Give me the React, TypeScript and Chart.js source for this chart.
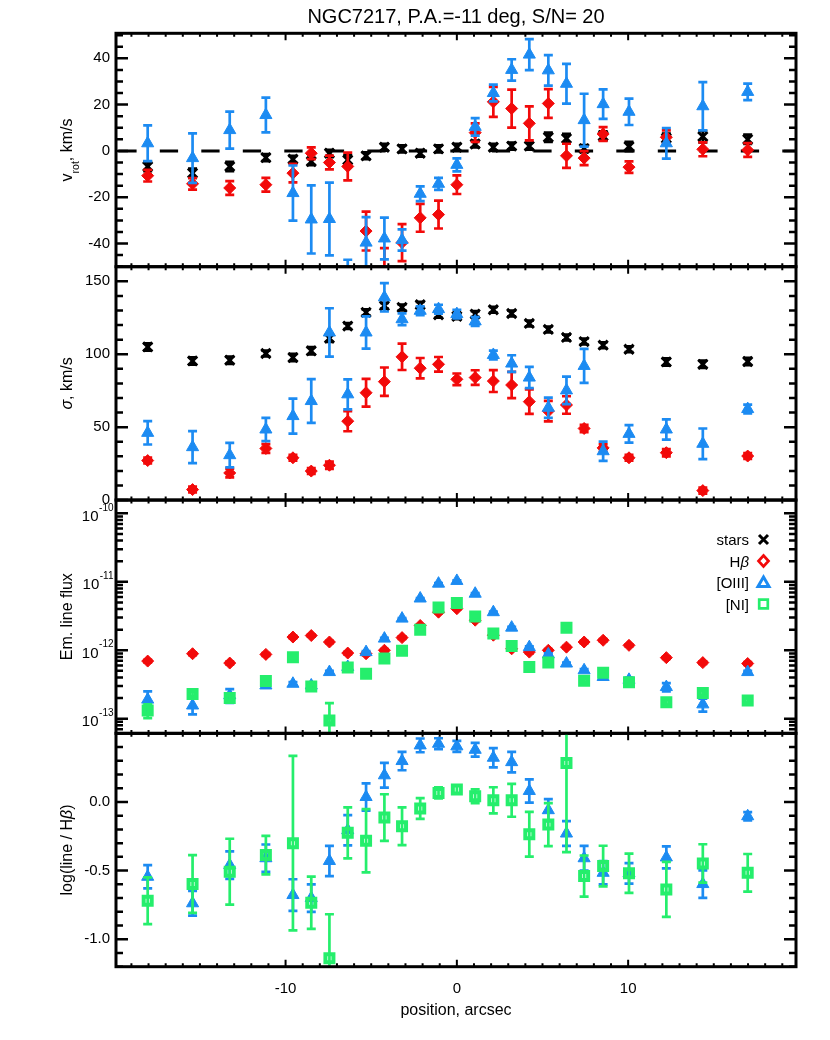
import React, { useEffect, useRef } from 'react';
import { Chart, registerables } from 'chart.js';

Chart.register(...registerables);

const FONT = '"Liberation Sans", Arial, Helvetica, sans-serif';
Chart.defaults.font.family = FONT;

// ---------------- data ----------------
const POS = [-18.05, -15.43, -13.26, -11.15, -9.57, -8.5, -7.44, -6.37, -5.3, -4.23, -3.2, -2.14, -1.07, 0, 1.07, 2.13, 3.2, 4.23, 5.34, 6.4, 7.43, 8.54, 10.05, 12.23, 14.36, 16.98];

// rotation velocity, km/s
const VROT_STARS = [-6.7, -9.6, -6.7, -2.9, -3.6, -4.6, -1.0, -3.9, -2.1, 1.6, 0.9, -1.0, 0.9, 1.6, 3.0, 1.6, 2.1, 2.1, 5.9, 5.4, 1.0, 6.5, 1.9, 5.5, 6.2, 5.0];
const VROT_STARS_ERR = [2, 2, 2, 1.5, 1.5, 1.5, 1.5, 2, 1.5, 1.5, 1.5, 1.5, 1.5, 1.5, 1.5, 1.5, 1.5, 1.5, 2, 2, 1.5, 2, 2, 2, 2.5, 2];
const VROT_HB = [-10.7, -14.2, -16, -14.6, -9.6, -1, -5, -6.7, -34.6, -52, -39.6, -28.9, -27.5, -14.6, 7.9, 21.2, 18.3, 11.9, 20.5, -2.1, -3.1, 7.3, -7, 5.9, 0.7, 0.4];
const VROT_HB_ERR = [2.5, 2.5, 3, 3, 4, 2.5, 3, 6, 8.4, 10, 8, 6, 6, 4, 4, 6.5, 8.2, 7.3, 6.2, 5.2, 3, 3, 2.5, 3, 3, 3];
const VROT_OIII = [3.3, -3.1, 9, 15.5, -18.2, -29.6, -29.4, -65, -39.6, -37.8, -38.5, -18.5, -14.2, -6, 10.4, 25, 35, 41.6, 34.8, 29, 13.3, 20.2, 16.9, 3.3, 19.3, 25.5];
const VROT_OIII_ERR = [7.7, 10.7, 8, 7.5, 11.9, 14.7, 15.7, 18, 11, 9, 4.6, 3.2, 2.6, 2.8, 3.8, 3.6, 4.6, 6.7, 6.6, 8.6, 11.4, 6.4, 5.7, 6.6, 10.4, 3.6];

// velocity dispersion, km/s
const SIGMA_STARS = [105, 95.4, 95.9, 100.5, 97.7, 102.3, 111, 119.3, 128.7, 133.2, 132.1, 133.9, 127, 126, 127.5, 130.5, 127.9, 121.1, 117, 111.5, 108.7, 106.2, 103.4, 94.7, 93.1, 95];
const SIGMA_STARS_ERR = [2.5, 2.5, 2.5, 2, 2.5, 2.5, 2.5, 2, 2, 2, 2, 2, 2, 2, 2, 2, 2, 2, 2, 2, 2, 2, 2, 2.5, 2.5, 2.5];
const SIGMA_HB = [27.1, 7.2, 18.6, 35.4, 29.0, 19.9, 23.9, 54.1, 73.6, 81.2, 98.2, 90.4, 93.1, 82.8, 84, 81.6, 78.9, 67.5, 61, 65.2, 49.1, 35.8, 29, 32.5, 6.5, 30.2];
const SIGMA_HB_ERR = [2, 2, 3, 3, 2, 2, 2.5, 6.9, 9.5, 9.7, 9, 7, 5, 4, 5, 7.5, 9, 8.4, 7, 6, 2.5, 2.5, 2, 2.5, 2, 2];
const SIGMA_OIII = [46.1, 36.3, 30.8, 48.4, 57.6, 67.9, 114.9, 72.5, 114.9, 139, 124, 129.8, 130.9, 127.5, 122.5, 99.5, 93.6, 84, 63.3, 75.2, 92, 33.5, 45.4, 48.4, 38.6, 62.4];
const SIGMA_OIII_ERR = [8, 11, 8.4, 8, 12, 15, 16.6, 10.3, 11, 9.7, 4, 3, 3, 3, 3, 3, 5.7, 7.3, 7, 9.4, 11.7, 6.6, 6, 6.9, 10.5, 3];

// emission line flux
const FLUX_HB = [6.95e-13, 8.9e-13, 6.5e-13, 8.7e-13, 1.56e-12, 1.64e-12, 1.32e-12, 9.1e-13, 8.9e-13, 1.0e-12, 1.53e-12, 2.3e-12, 3.6e-12, 4.05e-12, 2.75e-12, 1.66e-12, 1.05e-12, 9.4e-13, 1.0e-12, 1.11e-12, 1.32e-12, 1.4e-12, 1.18e-12, 7.8e-13, 6.6e-13, 6.4e-13];
const FLUX_HB_ERR = [0.3e-13, 0.4e-13, 0.3e-13, 0.4e-13, 0.6e-13, 0.6e-13, 0.5e-13, 0.4e-13, 0.4e-13, 0.4e-13, 0.6e-13, 0.8e-13, 1.2e-13, 1.3e-13, 1.0e-13, 0.6e-13, 0.4e-13, 0.4e-13, 0.4e-13, 0.4e-13, 0.5e-13, 0.5e-13, 0.4e-13, 0.3e-13, 0.3e-13, 0.3e-13];
const FLUX_OIII = [1.9e-13, 1.56e-13, 2.2e-13, 3.06e-13, 3.24e-13, 3.06e-13, 4.8e-13, 5.7e-13, 9.4e-13, 1.48e-12, 2.9e-12, 5.7e-12, 9.4e-12, 1.03e-11, 6.7e-12, 3.6e-12, 2.14e-12, 1.11e-12, 8.7e-13, 6.4e-13, 5.1e-13, 4.07e-13, 3.7e-13, 2.9e-13, 1.62e-13, 4.8e-13];
const FLUX_OIII_ERR = [0.6e-13, 0.4e-13, 0.5e-13, 0.2e-13, 0.2e-13, 0.2e-13, 0.2e-13, 0.2e-13, 0.3e-13, 0.4e-13, 0.6e-13, 1e-13, 1.5e-13, 1.6e-13, 1.2e-13, 0.8e-13, 0.5e-13, 0.3e-13, 0.3e-13, 0.2e-13, 0.2e-13, 0.2e-13, 0.3e-13, 0.4e-13, 0.35e-13, 0.2e-13];
const FLUX_NI = [1.32e-13, 2.3e-13, 2.0e-13, 3.55e-13, 7.9e-13, 2.95e-13, 9.4e-14, 5.6e-13, 4.55e-13, 7.6e-13, 9.8e-13, 2.0e-12, 4.2e-12, 4.9e-12, 3.1e-12, 1.75e-12, 1.15e-12, 5.7e-13, 6.6e-13, 2.14e-12, 3.6e-13, 4.7e-13, 3.4e-13, 1.74e-13, 2.37e-13, 1.85e-13];
const FLUX_NI_ERR = [0.3e-13, 0.25e-13, 0.2e-13, 0.2e-13, 0.3e-13, 0.2e-13, 0.75e-13, 0.2e-13, 0.2e-13, 0.3e-13, 0.3e-13, 0.5e-13, 0.8e-13, 0.9e-13, 0.6e-13, 0.4e-13, 0.3e-13, 0.2e-13, 0.2e-13, 0.4e-13, 0.2e-13, 0.3e-13, 0.2e-13, 0.2e-13, 0.2e-13, 0.15e-13];

// log(line / Hbeta)
const RATIO_OIII = [-0.545, -0.738, -0.46, -0.41, -0.678, -0.70, -0.43, -0.206, 0.036, 0.194, 0.298, 0.412, 0.424, 0.405, 0.38, 0.322, 0.29, 0.08, -0.06, -0.23, -0.41, -0.516, -0.52, -0.404, -0.598, -0.104];
const RATIO_OIII_ERR = [0.085, 0.09, 0.1, 0.1, 0.115, 0.1, 0.11, 0.11, 0.1, 0.09, 0.067, 0.05, 0.04, 0.04, 0.05, 0.07, 0.075, 0.085, 0.08, 0.09, 0.09, 0.085, 0.075, 0.08, 0.1, 0.03];
const RATIO_NI = [-0.72, -0.598, -0.508, -0.387, -0.30, -0.734, -1.138, -0.225, -0.283, -0.114, -0.177, -0.048, 0.066, 0.09, 0.041, 0.012, 0.012, -0.235, -0.165, 0.284, -0.54, -0.467, -0.52, -0.637, -0.448, -0.516];
const RATIO_NI_ERR = [0.17, 0.21, 0.24, 0.14, 0.635, 0.19, 0.32, 0.186, 0.23, 0.17, 0.137, 0.076, 0.04, 0.03, 0.05, 0.095, 0.12, 0.163, 0.157, 0.65, 0.15, 0.148, 0.143, 0.2, 0.14, 0.137];

// ---------------- text / ticks ----------------
const TITLE = 'NGC7217, P.A.=-11 deg, S/N= 20';
const X_TITLE = 'position, arcsec';
const X_MIN = -19.9;
const X_MAX = 19.8;
const X_TICKS = [-10, 0, 10];
const Y1_TICKS = [-40, -20, 0, 20, 40];
const Y2_TICKS = [0, 50, 100, 150];
const Y3_DECADES = [-13, -12, -11, -10];
const Y4_TICKS = [-1.0, -0.5, 0.0];

type Part = { t: string; it?: boolean; sub?: boolean; sup?: boolean };
const LEGEND_LABELS: Part[][] = [[{ t: 'stars' }], [{ t: 'H' }, { t: 'β', it: true }], [{ t: '[OIII]' }], [{ t: '[NI]' }]];

// ---------------- style ----------------
const C_STARS = '#000000';
const C_HB = '#F20A0A';
const C_OIII = '#1C8BF2';
const C_NI = '#25EE6C';

const W = 830;
const H = 1040;
const AREA_L = 116;
const AREA_R = 796;
const PANEL_TOPS = [33.3, 266.7, 500, 733.3];
const PANEL_H = 233.4;
const X_AXIS_H = 60;

function range(a: number, b: number, s: number) {
  const out: number[] = [];
  const n = Math.floor((b - a) / s + 1e-6);
  for (let i = 0; i <= n; i++) out.push(+(a + i * s).toFixed(6));
  return out;
}

function pts(ys: number[]) {
  return POS.map((x, i) => ({ x, y: ys[i] }));
}

function starsDs(ys: number[], err: number[]) {
  return { label: 'stars', data: pts(ys), err, pointStyle: 'crossRot', pointRadius: 6.5, pointBorderWidth: 3, pointBorderColor: C_STARS, pointBackgroundColor: C_STARS, order: 4 };
}
function hbDs(ys: number[], err: number[]) {
  return { label: 'Hb', data: pts(ys), err, pointStyle: 'rectRot', pointRadius: 6, pointBorderWidth: 1, pointBorderColor: C_HB, pointBackgroundColor: C_HB, order: 3 };
}
function oiiiDs(ys: number[], err: number[]) {
  return { label: '[OIII]', data: pts(ys), err, pointStyle: 'triangle', pointRadius: 7, pointBorderWidth: 1, pointBorderColor: C_OIII, pointBackgroundColor: C_OIII, order: 2 };
}
function niDs(ys: number[], err: number[], r: number, bw: number) {
  return { label: '[NI]', data: pts(ys), err, pointStyle: 'rect', pointRadius: r, pointBorderWidth: bw, pointBorderColor: C_NI, pointBackgroundColor: 'rgba(255,255,255,0)', order: 1 };
}

interface PanelDef {
  yType: 'linear' | 'logarithmic';
  yMin: number;
  yMax: number;
  majors: number[];
  minors: number[];
  fmt: (v: number) => string;
  yTitle: Part[];
  datasets: any[];
  showX: boolean;
  legend?: boolean;
}

function logMinors(min: number, max: number) {
  const out: number[] = [];
  for (let e = -14; e <= -10; e++) for (let k = 2; k <= 9; k++) {
    const v = k * Math.pow(10, e);
    if (v >= min && v <= max) out.push(v);
  }
  return out;
}

const PANELS: PanelDef[] = [
  {
    yType: 'linear', yMin: -50, yMax: 50.8, majors: Y1_TICKS, minors: range(-50, 50.8, 5), fmt: (v) => String(v),
    yTitle: [{ t: 'v' }, { t: 'rot', sub: true }, { t: ', km/s' }],
    showX: false,
    datasets: [
      { type: 'line', label: 'zero', data: [{ x: X_MIN, y: 0 }, { x: X_MAX, y: 0 }], borderColor: '#000', borderWidth: 3, borderDash: [18.3, 23.2], borderDashOffset: 39.2, pointRadius: 0, order: 10 },
      starsDs(VROT_STARS, VROT_STARS_ERR),
      hbDs(VROT_HB, VROT_HB_ERR),
      oiiiDs(VROT_OIII, VROT_OIII_ERR),
    ],
  },
  {
    yType: 'linear', yMin: 0, yMax: 160, majors: Y2_TICKS, minors: range(0, 160, 10), fmt: (v) => String(v),
    yTitle: [{ t: 'σ', it: true }, { t: ', km/s' }],
    showX: false,
    datasets: [starsDs(SIGMA_STARS, SIGMA_STARS_ERR), hbDs(SIGMA_HB, SIGMA_HB_ERR), oiiiDs(SIGMA_OIII, SIGMA_OIII_ERR)],
  },
  {
    yType: 'logarithmic', yMin: 6.1e-14, yMax: 1.567e-10, majors: Y3_DECADES.map((e) => Math.pow(10, e)), minors: logMinors(6.1e-14, 1.567e-10), fmt: () => '',
    yTitle: [{ t: 'Em. line flux' }],
    showX: false, legend: true,
    datasets: [hbDs(FLUX_HB, FLUX_HB_ERR), oiiiDs(FLUX_OIII, FLUX_OIII_ERR), niDs(FLUX_NI, FLUX_NI_ERR, 4.95, 5)],
  },
  {
    yType: 'linear', yMin: -1.2, yMax: 0.5, majors: Y4_TICKS, minors: range(-1.2, 0.5, 0.1), fmt: (v) => v.toFixed(1),
    yTitle: [{ t: 'log(line / H' }, { t: 'β', it: true }, { t: ')' }],
    showX: true,
    datasets: [oiiiDs(RATIO_OIII, RATIO_OIII_ERR), niDs(RATIO_NI, RATIO_NI_ERR, 5.66, 4)],
  },
];

// ---------------- drawing helpers ----------------
function partFont(p: Part, size: number) {
  const s = p.sub || p.sup ? size * 0.66 : size;
  return `${p.it ? 'italic ' : ''}${s}px ${FONT}`;
}
function drawParts(ctx: CanvasRenderingContext2D, parts: Part[], x: number, y: number, size: number, align: 'left' | 'center' | 'right') {
  ctx.textAlign = 'left';
  ctx.textBaseline = 'alphabetic';
  let total = 0;
  const widths = parts.map((p) => {
    ctx.font = partFont(p, size);
    const w = ctx.measureText(p.t).width;
    total += w;
    return w;
  });
  let cx = align === 'center' ? x - total / 2 : align === 'right' ? x - total : x;
  parts.forEach((p, i) => {
    ctx.font = partFont(p, size);
    const dy = p.sub ? size * 0.42 : p.sup ? -size * 0.45 : 0;
    ctx.fillText(p.t, cx, y + dy);
    cx += widths[i];
  });
}

const errorBars = {
  id: 'errorBars',
  afterDatasetDraw(chart: any, args: any) {
    const ds = chart.data.datasets[args.index];
    if (!ds.err) return;
    const { ctx, chartArea: a } = chart;
    const xs = chart.scales.x;
    const ys = chart.scales.y;
    ctx.save();
    ctx.beginPath();
    ctx.rect(a.left, a.top, a.right - a.left, a.bottom - a.top);
    ctx.clip();
    ctx.strokeStyle = ds.pointBorderColor;
    ctx.lineWidth = 2.7;
    ctx.lineCap = 'butt';
    ds.data.forEach((p: any, i: number) => {
      const e = ds.err[i];
      if (!e) return;
      const px = xs.getPixelForValue(p.x);
      const yHi = ys.getPixelForValue(p.y + e);
      const lo = p.y - e;
      const yLo = ys.type === 'logarithmic' && lo <= 0 ? a.bottom + 20 : ys.getPixelForValue(lo);
      ctx.beginPath();
      ctx.moveTo(px, yHi);
      ctx.lineTo(px, yLo);
      ctx.moveTo(px - 4.5, yHi);
      ctx.lineTo(px + 4.5, yHi);
      ctx.moveTo(px - 4.5, yLo);
      ctx.lineTo(px + 4.5, yLo);
      ctx.stroke();
    });
    ctx.restore();
  },
};

function drawLegendMarker(ctx: CanvasRenderingContext2D, kind: number, x: number, y: number) {
  ctx.save();
  ctx.lineCap = 'butt';
  ctx.beginPath();
  if (kind === 0) {
    ctx.strokeStyle = C_STARS;
    ctx.lineWidth = 3;
    ctx.moveTo(x - 4.5, y - 4.5); ctx.lineTo(x + 4.5, y + 4.5);
    ctx.moveTo(x + 4.5, y - 4.5); ctx.lineTo(x - 4.5, y + 4.5);
  } else if (kind === 1) {
    ctx.strokeStyle = C_HB;
    ctx.lineWidth = 2.7;
    ctx.moveTo(x, y - 5.5); ctx.lineTo(x + 5, y); ctx.lineTo(x, y + 5.5); ctx.lineTo(x - 5, y); ctx.closePath();
  } else if (kind === 2) {
    ctx.strokeStyle = C_OIII;
    ctx.lineWidth = 3;
    ctx.moveTo(x, y - 5.5); ctx.lineTo(x + 5.5, y + 4); ctx.lineTo(x - 5.5, y + 4); ctx.closePath();
  } else {
    ctx.strokeStyle = C_NI;
    ctx.lineWidth = 2.7;
    ctx.rect(x - 4.3, y - 4.3, 8.6, 8.6);
  }
  ctx.stroke();
  ctx.restore();
}

function makeDecor(p: PanelDef, idx: number) {
  return {
    id: 'decor' + idx,
    afterDatasetsDraw(chart: any) {
      const { ctx, chartArea: a } = chart;
      const xs = chart.scales.x;
      const ys = chart.scales.y;
      ctx.save();
      ctx.strokeStyle = '#000';
      ctx.lineCap = 'butt';
      ctx.lineWidth = 2;
      ctx.beginPath();
      for (let v = Math.ceil(X_MIN); v <= X_MAX; v++) {
        const px = xs.getPixelForValue(v);
        const len = X_TICKS.includes(v) ? 7 : 3.5;
        ctx.moveTo(px, a.bottom); ctx.lineTo(px, a.bottom - len);
        ctx.moveTo(px, a.top); ctx.lineTo(px, a.top + len);
      }
      ctx.stroke();
      ctx.lineWidth = 2.5;
      ctx.beginPath();
      const yTick = (v: number, len: number) => {
        const py = ys.getPixelForValue(v);
        if (py < a.top - 0.5 || py > a.bottom + 0.5) return;
        ctx.moveTo(a.left, py); ctx.lineTo(a.left + len, py);
        ctx.moveTo(a.right, py); ctx.lineTo(a.right - len, py);
      };
      p.minors.forEach((v) => yTick(v, 7));
      p.majors.forEach((v) => yTick(v, 12));
      ctx.stroke();
      ctx.lineWidth = 3;
      ctx.strokeRect(a.left, a.top, a.right - a.left, a.bottom - a.top);
      ctx.restore();
    },
    afterDraw(chart: any) {
      const { ctx, chartArea: a } = chart;
      const ys = chart.scales.y;
      ctx.save();
      ctx.fillStyle = '#000';
      // y title
      ctx.save();
      ctx.translate(a.left - 44, (a.top + a.bottom) / 2);
      ctx.rotate(-Math.PI / 2);
      drawParts(ctx, p.yTitle, 0, 0, 16, 'center');
      ctx.restore();
      if (idx === 0) {
        ctx.font = `20px ${FONT}`;
        ctx.textAlign = 'center';
        ctx.textBaseline = 'alphabetic';
        ctx.fillText(TITLE, (a.left + a.right) / 2, a.top - 10);
      }
      if (p.yType === 'logarithmic') {
        Y3_DECADES.forEach((e) => {
          const py = ys.getPixelForValue(Math.pow(10, e));
          ctx.textAlign = 'right';
          ctx.textBaseline = 'alphabetic';
          ctx.font = `10px ${FONT}`;
          const sup = String(e);
          const supW = ctx.measureText(sup).width;
          ctx.fillText(sup, a.left - 2.5, py - 2.8);
          ctx.font = `15px ${FONT}`;
          ctx.fillText('10', a.left - 3 - supW, py + 7.3);
        });
      }
      if (p.legend) {
        LEGEND_LABELS.forEach((parts, i) => {
          const base = a.top + 45 + i * 21.5;
          drawParts(ctx, parts, a.right - 47, base, 15, 'right');
          drawLegendMarker(ctx, i, a.right - 32.5, base - 5.5);
        });
      }
      ctx.restore();
    },
  };
}

function makeConfig(p: PanelDef, idx: number): any {
  const top = PANEL_TOPS[idx];
  const bottomPad = H - (top + PANEL_H) - (p.showX ? X_AXIS_H : 0);
  return {
    type: 'scatter',
    data: { datasets: p.datasets },
    options: {
      responsive: false,
      maintainAspectRatio: false,
      animation: false,
      events: [],
      layout: { padding: { left: 0, right: W - AREA_R, top, bottom: bottomPad } },
      plugins: { legend: { display: false }, tooltip: { enabled: false }, title: { display: false } },
      scales: {
        x: {
          type: 'linear', min: X_MIN, max: X_MAX, position: 'bottom', display: p.showX,
          grid: { display: false, drawTicks: false }, border: { display: false },
          afterBuildTicks: (s: any) => { s.ticks = X_TICKS.map((v) => ({ value: v })); },
          afterFit: (s: any) => { if (p.showX) s.height = X_AXIS_H; },
          ticks: { font: { family: FONT, size: 15 }, color: '#000', padding: 13, maxRotation: 0, autoSkip: false, callback: (v: any) => String(v) },
          title: { display: true, text: X_TITLE, font: { family: FONT, size: 16 }, color: '#000', padding: { top: 0, bottom: 6.6 } },
        },
        y: {
          type: p.yType, min: p.yMin, max: p.yMax, position: 'left',
          grid: { display: false, drawTicks: false }, border: { display: false },
          afterBuildTicks: (s: any) => { s.ticks = p.majors.map((v) => ({ value: v })); },
          afterFit: (s: any) => { s.width = AREA_L; },
          ticks: { display: p.yType === 'linear', font: { family: FONT, size: 15 }, color: '#000', padding: 6, autoSkip: false, callback: (v: any) => p.fmt(Number(v)) },
        },
      },
    },
    plugins: [errorBars, makeDecor(p, idx)],
  };
}

function Panel({ def, idx }: { def: PanelDef; idx: number }) {
  const ref = useRef<HTMLCanvasElement>(null);
  useEffect(() => {
    const chart = new Chart(ref.current as HTMLCanvasElement, makeConfig(def, idx));
    return () => chart.destroy();
  }, [def, idx]);
  return <canvas ref={ref} width={W} height={H} style={{ position: 'absolute', left: 0, top: 0, width: W, height: H }} />;
}

export default function App() {
  return (
    <div style={{ position: 'absolute', left: 0, top: 0, width: W, height: H, background: '#fff', overflow: 'hidden' }}>
      {PANELS.map((d, i) => (
        <Panel key={i} def={d} idx={i} />
      ))}
    </div>
  );
}
